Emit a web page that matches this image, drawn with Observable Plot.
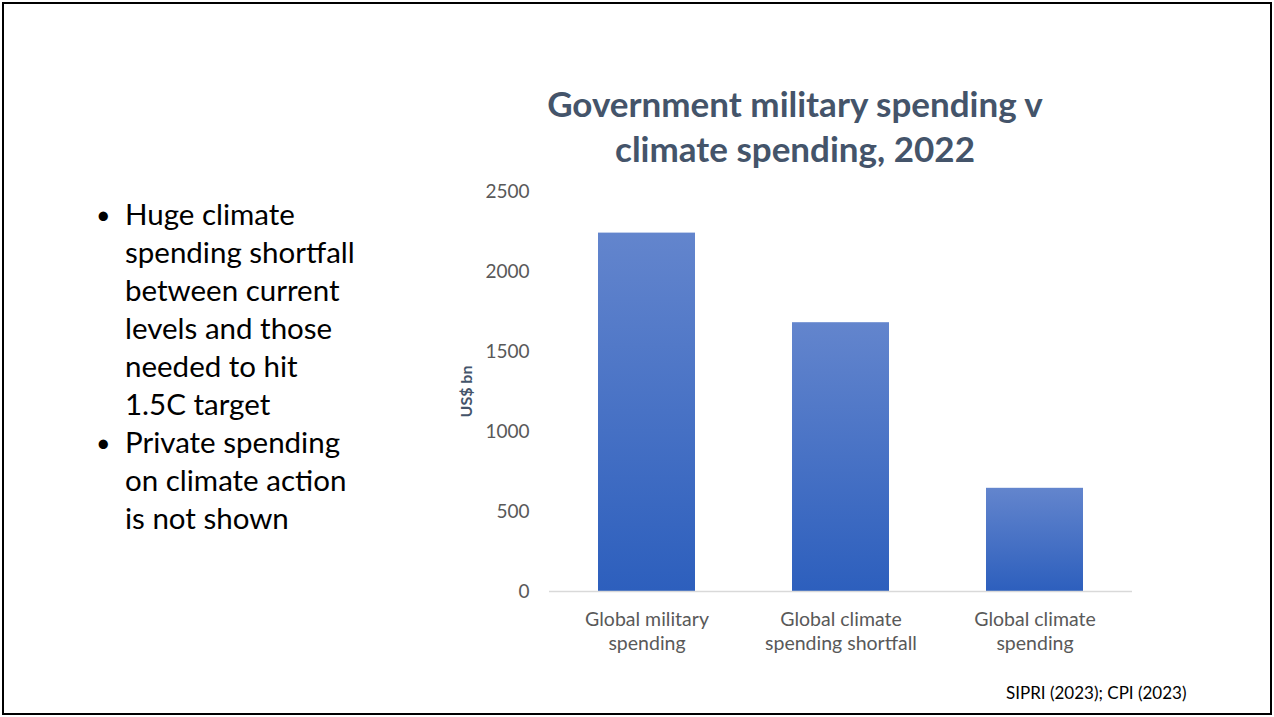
<!DOCTYPE html>
<html>
<head>
<meta charset="utf-8">
<script src="https://cdn.jsdelivr.net/npm/d3@7"></script>
<script src="https://cdn.jsdelivr.net/npm/@observablehq/plot@0.6"></script>
<style>
  html, body { margin: 0; padding: 0; background: #fff; }
  #slide { position: relative; width: 1274px; height: 717px; box-sizing: border-box; overflow: hidden; font-family: Lato, "Open Sans", sans-serif; }
  #frame { position: absolute; left: 2px; top: 2px; width: 1270px; height: 713px; box-sizing: border-box; border: 2px solid #000; }
  #title { position: absolute; left: 445px; width: 700px; top: 81px; text-align: center; color: #44546a; font-weight: 700; font-size: 35px; line-height: 45px; }
  #bullets { position: absolute; left: 96px; top: 195px; margin: 0; padding: 0; list-style: none; font-size: 29.5px; line-height: 38px; color: #000; }
  #bullets li { position: relative; padding-left: 29px; }
  #bullets li::before { content: "•"; position: absolute; left: 0; font-size: 25px; }
  #chart { position: absolute; left: 440px; top: 170px; }
  #caption { position: absolute; left: 1006px; top: 682px; font-size: 17px; color: #000; }
</style>
</head>
<body>
<div id="slide">
  <div id="frame"></div>
  <div id="title">Government military spending v<br>climate spending, 2022</div>
  <ul id="bullets">
    <li>Huge climate<br>spending shortfall<br>between current<br>levels and those<br>needed to hit<br>1.5C target</li>
    <li>Private spending<br>on climate action<br>is not shown</li>
  </ul>
  <div id="chart"></div>
  <div id="caption">SIPRI (2023); CPI (2023)</div>
</div>
<script>
const categories = ["Global military\nspending", "Global climate\nspending shortfall", "Global climate\nspending"];
const values = [2240, 1680, 645];
const yTicks = [0, 500, 1000, 1500, 2000, 2500];
const yLabel = "US$ bn";

const data = categories.map((c, i) => ({category: c, value: values[i]}));

const plot = Plot.plot({
  width: 720,
  height: 500,
  marginLeft: 109,
  marginRight: 28,
  marginTop: 21,
  marginBottom: 79,
  style: {fontFamily: "Lato, 'Open Sans', sans-serif", background: "transparent"},
  x: {domain: categories, paddingInner: 0.5, paddingOuter: 0.25, align: 0.5},
  y: {domain: [0, 2500], ticks: yTicks},
  marks: [
    Plot.barY(data, {x: "category", y: "value", fill: "url(#barGrad)"}),
    Plot.ruleY([0], {stroke: "#d9d9d9", strokeWidth: 1.3}),
    Plot.axisY({ticks: yTicks, tickFormat: "d", tickSize: 0, tickPadding: 20, label: null, fontSize: 19, color: "#595959"}),
    Plot.axisX({tickSize: 0, tickPadding: 17, label: null, fontSize: 19.5, lineHeight: 1.23, color: "#595959"}),
    Plot.text([yLabel], {frameAnchor: "left", dx: -83, rotate: -90, textAnchor: "middle", fontSize: 16, fontWeight: "bold", fill: "#44546a"})
  ]
});

const ns = "http://www.w3.org/2000/svg";
const defs = document.createElementNS(ns, "defs");
const grad = document.createElementNS(ns, "linearGradient");
grad.setAttribute("id", "barGrad");
grad.setAttribute("x1", "0"); grad.setAttribute("y1", "0");
grad.setAttribute("x2", "0"); grad.setAttribute("y2", "1");
[["0", "#6385cd"], ["1", "#2d5fbd"]].forEach(([o, c]) => {
  const s = document.createElementNS(ns, "stop");
  s.setAttribute("offset", o); s.setAttribute("stop-color", c);
  grad.appendChild(s);
});
defs.appendChild(grad);
plot.insertBefore(defs, plot.firstChild);
document.getElementById("chart").appendChild(plot);
</script>
</body>
</html>
